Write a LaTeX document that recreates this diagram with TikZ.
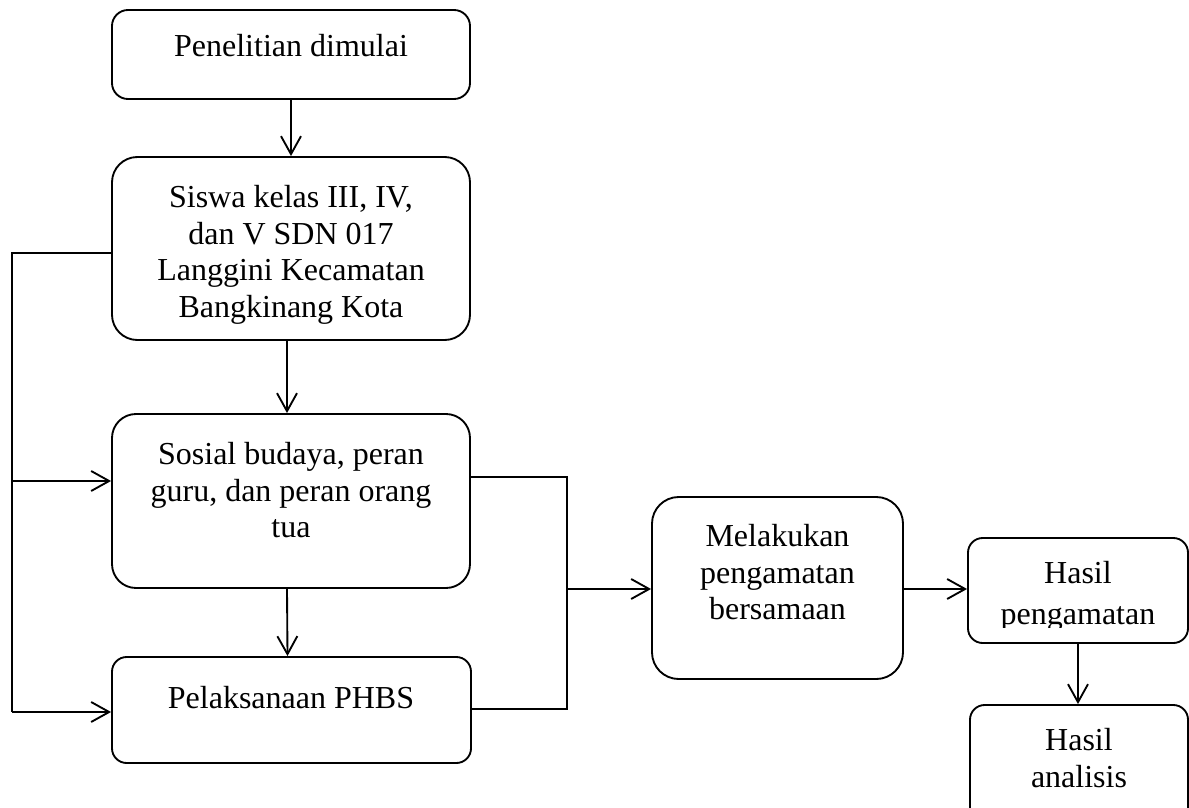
\documentclass[tikz,border=0pt]{standalone}
\usepackage{fontspec}
\setmainfont{Liberation Serif}
\usetikzlibrary{arrows.meta}
\newcommand\pxbox[6]{\node[box, rounded corners=#6, minimum width={(#4-#2)*0.75pt}, minimum height={(#5-#3)*0.75pt}] (#1) at ({(#2+#4)/2},{(#3+#5)/2}) {};}
\begin{document}
\begin{tikzpicture}[x=0.75pt,y=-0.75pt,
  box/.style={draw, line width=1.4pt, inner sep=0pt},
  txt/.style={align=center, inner sep=0pt, anchor=north, font=\fontsize{24}{27.5}\selectfont},
  arr/.style={line width=1.4pt, -{Straight Barb[length=13.5pt,width=15pt,line width=1.4pt]}},
  ln/.style={line width=1.4pt}]
\clip (0,0) rectangle (1189,807);
\fill[white] (0,0) rectangle (1189,807);
% boxes
\pxbox{b1}{112}{10}{470}{99}{12pt}
\pxbox{b2}{112}{157}{470}{340}{19pt}
\pxbox{b3}{112}{414}{470}{588}{18pt}
\pxbox{b4}{112}{657}{471}{763}{11pt}
\pxbox{b5}{652}{497}{903}{679}{20pt}
\pxbox{b6}{968}{538}{1188}{643}{11pt}
\pxbox{b7}{970}{705}{1188}{840}{11pt}
% texts
\node[txt] (t1) at (291,34) {Penelitian dimulai};
\node[txt] (t2) at (291,185) {Siswa kelas III, IV,\\dan V SDN 017\\Langgini Kecamatan\\Bangkinang Kota};
\node[txt] (t3) at (291,442) {Sosial budaya, peran\\guru, dan peran orang\\tua};
\node[txt] (t4) at (291,686) {Pelaksanaan PHBS};
\node[txt] (t5) at (777.5,524) {Melakukan\\pengamatan\\bersamaan};
\begin{scope}
\clip (968,538) rectangle (1188,627);
\node[txt, font=\fontsize{24}{30.5}\selectfont] (t6) at (1078,561) {Hasil\\pengamatan};
\end{scope}
\node[txt] (t7) at (1079,728) {Hasil\\analisis};
% coordinates
\coordinate (lt) at (12,253);
\coordinate (lm) at (12,481);
\coordinate (lb) at (12,712);
\coordinate (rt) at (567,477);
\coordinate (rm) at (567,589);
\coordinate (rb) at (567,709);
% connectors
\draw[arr] (b1.south) -- (b2.north);
\draw[arr] ([xshift=-3pt]b2.south) -- ([xshift=-3pt]b3.north);
\draw[arr] ([xshift=-3pt]b3.south) -- ([xshift=-3pt]b4.north);
\draw[ln] (b2.west |- lt) -- (lt) -- (lb);
\draw[arr] (lm) -- (b3.west |- lm);
\draw[arr] (lb) -- (b4.west |- lb);
\draw[ln] (b3.east |- rt) -- (rt) -- (rb) -- (b4.east |- rb);
\draw[arr] (rm) -- (b5.west |- rm);
\draw[arr] (b5.east |- rm) -- (b6.west |- rm);
\draw[arr] (b6.south) -- (b7.north -| b6.south);
\end{tikzpicture}
\end{document}
